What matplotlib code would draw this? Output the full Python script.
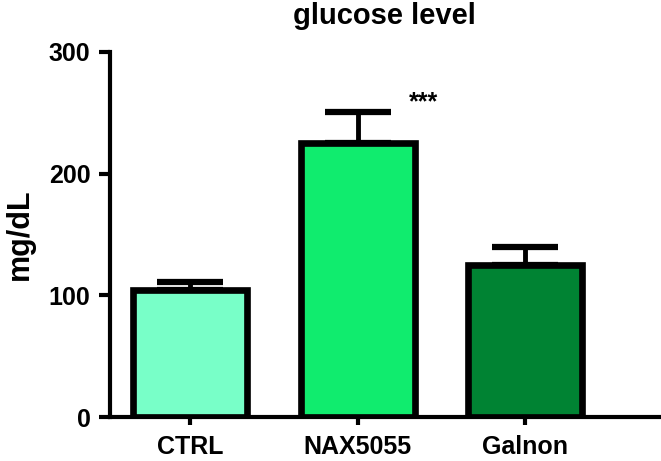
import matplotlib
matplotlib.use("Agg")
import matplotlib.pyplot as plt

categories = ["CTRL", "NAX5055", "Galnon"]
means = [104, 225, 125]
sems = [7, 26, 15]
colors = ["#78FFC8", "#10EC6E", "#008333"]

plt.rcParams['font.family'] = ['Liberation Sans', 'DejaVu Sans']
plt.rcParams['font.weight'] = 'bold'

fig = plt.figure(figsize=(6.61, 4.61), dpi=100)
ax = fig.add_axes([110/661, 1-417/461, 551/661, 365/461])

x = list(range(len(categories)))
ax.bar(x, means, width=0.68, color=colors, edgecolor="black", linewidth=4.8,
       zorder=2)
ax.errorbar(x, means, yerr=[[0]*len(sems), sems], fmt="none", ecolor="black",
            elinewidth=3.5, capsize=24, capthick=4.5, zorder=1)

ax.text(1.39, means[1] + sems[1] - 2, "***", ha="center", va="bottom",
        fontsize=18, fontweight="bold")

ax.set_xlim(-0.48, 2.81)
ax.set_ylim(0, 300)
ax.set_yticks([0, 100, 200, 300])
ax.set_xticks(x)
ax.set_xticklabels(categories)
for s in ["top", "right"]:
    ax.spines[s].set_visible(False)
for s in ["left", "bottom"]:
    ax.spines[s].set_linewidth(3)
ax.tick_params(axis="both", width=3, length=8, labelsize=18, pad=6)
ax.tick_params(axis="x", length=6, pad=7)
for lab in ax.get_xticklabels() + ax.get_yticklabels():
    lab.set_fontweight("bold")
ax.set_ylabel("mg/dL", fontsize=22, fontweight="bold", labelpad=10)
fig.suptitle("glucose level", x=384/661, y=1-2/461, va="top", fontsize=21,
             fontweight="bold")

fig.savefig("out.png", dpi=100)
